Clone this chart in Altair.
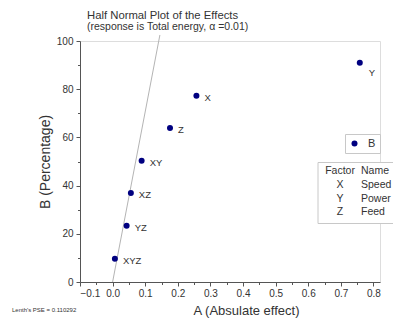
import altair as alt
import pandas as pd

# ---- data ----
effects = ["XYZ", "YZ", "XZ", "XY", "Z", "X", "Y"]
abs_effect = [0.007, 0.043, 0.056, 0.089, 0.176, 0.257, 0.758]
percent = [9.6, 23.3, 36.9, 50.3, 63.9, 77.3, 91.0]

ref_x = [0.0, 0.145]
ref_y = [0.0, 102.5]

x_ticks_a = [-0.1, 0.1, 0.3, 0.5, 0.7]
x_ticks_b = [0.0, 0.2, 0.4, 0.6, 0.8]
x_minor = [-0.05, 0.05, 0.15, 0.25, 0.35, 0.45, 0.55, 0.65, 0.75]
y_ticks = [0, 20, 40, 60, 80, 100]
y_minor = [10, 30, 50, 70, 90]

factors = ["X", "Y", "Z"]
factor_names = ["Speed", "Power", "Feed"]
series_name = "B"
pse_text = "Lenth's PSE = 0.110292"

FONT = "Liberation Sans"
NAVY = "#000080"
TXT = "#333333"
AX = "#555555"

pts = pd.DataFrame({"effect": effects, "A": abs_effect, "B": percent,
                    "series": [series_name] * len(effects)})
line_df = pd.DataFrame({"A": ref_x, "B": ref_y})

xscale = alt.Scale(domain=[-0.1, 0.82], nice=False, zero=False)
yscale = alt.Scale(domain=[0, 100], nice=False, zero=False)

x_axis = alt.Axis(values=x_ticks_a, format=".1f", title="A (Absulate effect)",
                  grid=False, tickSize=4, labelFontSize=10, labelPadding=2,
                  labelOverlap=False,
                  titleFontSize=13, titleFontWeight="normal", titleX=166,
                  titlePadding=6, orient="bottom",
                  domainColor=AX, tickColor=AX,
                  labelColor=TXT, titleColor=TXT, labelFont=FONT, titleFont=FONT)
x_axis_b = alt.Axis(values=x_ticks_b, format=".1f", title=None, grid=False,
                    tickSize=4, labelFontSize=10, labelPadding=2,
                    labelOverlap=False, domain=False, orient="bottom",
                    tickColor=AX, labelColor=TXT, labelFont=FONT)
y_axis = alt.Axis(values=y_ticks, format="d", title="B (Percentage)", grid=False,
                  tickSize=4, labelFontSize=10, labelPadding=3,
                  titleFontSize=14, titleFontWeight="normal", titlePadding=4,
                  orient="left",
                  domainColor=AX, tickColor=AX,
                  labelColor=TXT, titleColor=TXT, labelFont=FONT, titleFont=FONT)

x_minor_axis = alt.Axis(values=x_minor, labels=False, title=None, grid=False,
                        tickSize=2.5, domain=False, orient="bottom", tickColor=AX)
y_minor_axis = alt.Axis(values=y_minor, labels=False, title=None, grid=False,
                        tickSize=2.5, domain=False, orient="left", tickColor=AX)

# layers carrying only extra axes (their lines are invisible)
minor = alt.Chart(line_df).mark_line(opacity=0).encode(
    x=alt.X("A:Q", scale=xscale, axis=x_minor_axis),
    y=alt.Y("B:Q", scale=yscale, axis=y_minor_axis),
)
extra = alt.Chart(line_df).mark_line(opacity=0).encode(
    x=alt.X("A:Q", scale=xscale, axis=x_axis_b),
    y=alt.Y("B:Q", scale=yscale, axis=None),
)

ref_line = alt.Chart(line_df).mark_line(color="#b4b4b4", strokeWidth=1, clip=False).encode(
    x=alt.X("A:Q", scale=xscale, axis=x_axis),
    y=alt.Y("B:Q", scale=yscale, axis=y_axis),
)

points = alt.Chart(pts).mark_circle(size=36, opacity=1).encode(
    x=alt.X("A:Q", scale=xscale, axis=x_axis),
    y=alt.Y("B:Q", scale=yscale, axis=y_axis),
    color=alt.Color("series:N", scale=alt.Scale(range=[NAVY]),
                    legend=alt.Legend(orient="none", legendX=265, legendY=93,
                                      title=None, strokeColor="#c8c8c8",
                                      padding=4, labelFontSize=11,
                                      labelFont=FONT, labelColor=TXT,
                                      symbolType="circle", symbolSize=36,
                                      labelOffset=8)),
)

labels_main = alt.Chart(pts).transform_filter(alt.datum.effect != "Y").mark_text(
    align="left", baseline="middle", dx=8, dy=2, fontSize=9.5, font=FONT, color=TXT
).encode(x="A:Q", y="B:Q", text="effect:N")

labels_y = alt.Chart(pts).transform_filter(alt.datum.effect == "Y").mark_text(
    align="left", baseline="middle", dx=9, dy=10, fontSize=9.5, font=FONT, color=TXT
).encode(x="A:Q", y="B:Q", text="effect:N")

one = pd.DataFrame({"k": [0]})
table_box = alt.Chart(one).mark_rect(fill="white", stroke="#c8c8c8",
                                     strokeWidth=1, clip=False).encode(
    x=alt.value(238), x2=alt.value(330), y=alt.value(121.5), y2=alt.value(182.5)
)

col_factor = pd.DataFrame({"t": ["\n".join(["Factor"] + factors)]})
col_name = pd.DataFrame({"t": ["\n".join(["Name"] + factor_names)]})

table_factor = alt.Chart(col_factor).mark_text(
    align="center", baseline="top", lineBreak="\n", lineHeight=13.8,
    fontSize=10.5, font=FONT, color=TXT, clip=False
).encode(x=alt.value(260), y=alt.value(125), text="t:N")

table_name = alt.Chart(col_name).mark_text(
    align="left", baseline="top", lineBreak="\n", lineHeight=13.8,
    fontSize=10.5, font=FONT, color=TXT, clip=False
).encode(x=alt.value(281), y=alt.value(125), text="t:N")

pse = alt.Chart(pd.DataFrame({"t": [pse_text]})).mark_text(
    align="left", baseline="middle", fontSize=6, font=FONT, color=TXT, clip=False
).encode(x=alt.value(-68), y=alt.value(269), text="t:N")

main = alt.layer(ref_line, points, labels_main, labels_y,
                 table_box, table_factor, table_name, pse)

chart = alt.layer(minor, extra, main).resolve_axis(
    x="independent", y="independent"
).properties(
    width=300,
    height=241,
    autosize=alt.AutoSizeParams(type="none"),
    padding={"left": 72, "top": 33, "right": 13, "bottom": 37},
    title=alt.Title("Half Normal Plot of the Effects",
                    subtitle="(response is Total energy, α =0.01)",
                    anchor="start", dx=75, fontSize=11.3, subtitleFontSize=10.5,
                    fontWeight="normal", font=FONT, subtitleFont=FONT,
                    color=TXT, subtitleColor=TXT, offset=0, subtitlePadding=1),
).configure_view(stroke=None).configure(font=FONT)

chart.save("out.html", embed_options={"renderer": "svg", "actions": False})
